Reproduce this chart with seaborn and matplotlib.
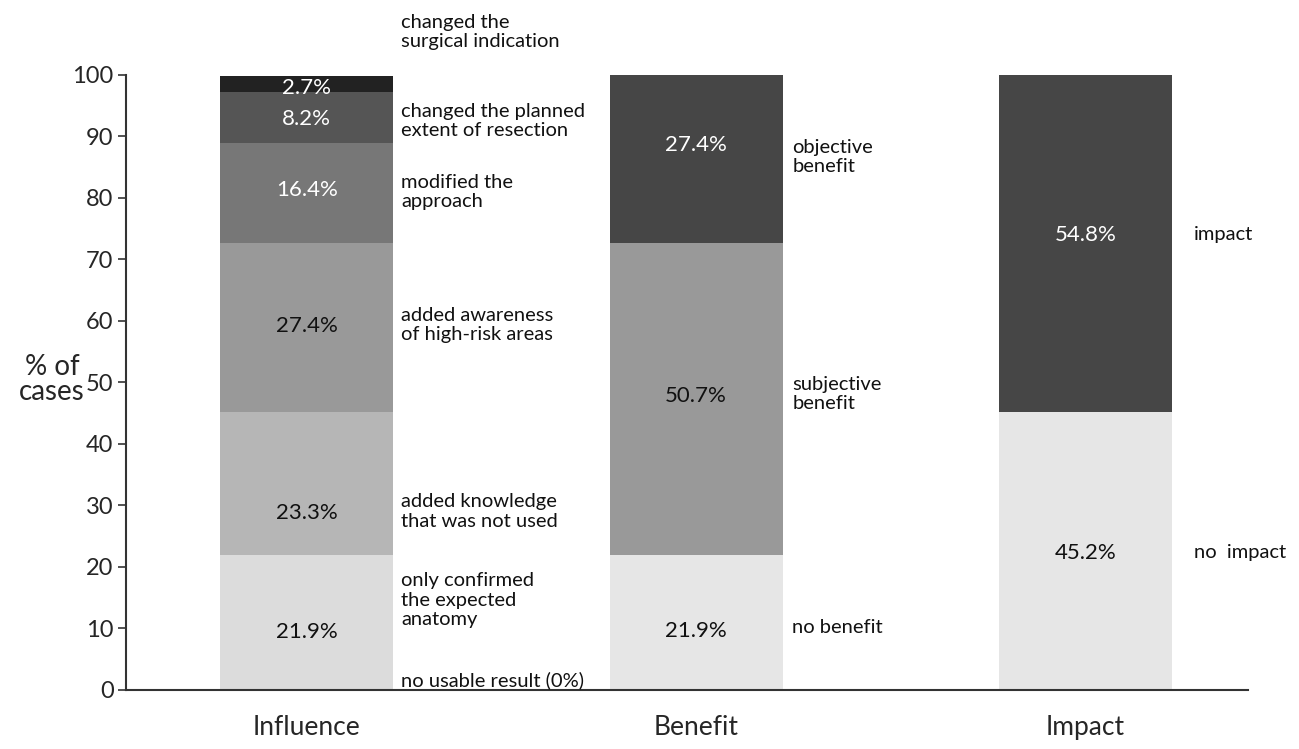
"""
Stacked bars: influence / benefit / impact of the intraoperative result
"""
import numpy as np
import pandas as pd
import matplotlib.pyplot as plt
import seaborn as sns

sns.set_style("ticks")
plt.rcParams['font.family'] = ['Lato', 'DejaVu Sans']

categories = ["Influence", "Benefit", "Impact"]

influence_labels = ["no usable result (0%)",
                    "only confirmed\nthe expected\nanatomy",
                    "added knowledge\nthat was not used",
                    "added awareness\nof high-risk areas",
                    "modified the\napproach",
                    "changed the planned\nextent of resection",
                    "changed the\nsurgical indication"]
influence_values = [0.0, 21.9, 23.3, 27.4, 16.4, 8.2, 2.7]

benefit_labels = ["no benefit", "subjective\nbenefit", "objective\nbenefit"]
benefit_values = [21.9, 50.7, 27.4]

impact_labels = ["no  impact", "impact"]
impact_values = [45.2, 54.8]

# colours bottom -> top
influence_colors = ["#dcdcdc", "#dcdcdc", "#b6b6b6", "#999999", "#777777", "#555555", "#222222"]
benefit_colors = ["#e6e6e6", "#999999", "#464646"]
impact_colors = ["#e6e6e6", "#464646"]

# text placement (data y of the side labels and of the values)
influence_text_y = [1.5, 14.6, 29.0, 59.3, 81.0, 92.5, 107.0]
influence_value_y = [None, 9.4, 28.8, 59.2, 81.3, 92.8, 97.9]
benefit_text_y = [10.1, 48.1, 86.7]
benefit_value_y = [9.6, 47.8, 88.6]
impact_text_y = [22.4, 74.0]
impact_value_y = [22.3, 74.0]

groups = [
    ("Influence", influence_labels, influence_values, influence_colors, influence_text_y, influence_value_y, 6),
    ("Benefit", benefit_labels, benefit_values, benefit_colors, benefit_text_y, benefit_value_y, 7),
    ("Impact", impact_labels, impact_values, impact_colors, impact_text_y, impact_value_y, 16),
]

rows = []
for cat, labels, values, colors, _, _, _ in groups:
    tops = np.cumsum(values)
    for lab, val, top, col in zip(labels, values, tops, colors):
        rows.append({"category": cat, "segment": cat + ": " + lab,
                     "value": val, "top": top, "color": col})
df = pd.DataFrame(rows)

# draw tallest cumulative first so lower segments paint over
hue_order = list(df.sort_values("top", ascending=False)["segment"])
palette = dict(zip(df["segment"], df["color"]))

fig = plt.figure(figsize=(12.99, 7.49), dpi=100)
ax = fig.add_axes([0.097, 0.079, 0.864, 0.821])

sns.barplot(data=df, x="category", y="top", hue="segment", order=categories,
            hue_order=hue_order, palette=palette, dodge=False, width=0.444,
            linewidth=0, legend=False, ax=ax)

half = 0.222
for i, (cat, labels, values, colors, text_y, value_y, dx) in enumerate(groups):
    for lab, val, col, ty, vy in zip(labels, values, colors, text_y, value_y):
        ax.annotate(lab, xy=(i + half, ty), xytext=(dx, 0), textcoords="offset points",
                    ha="left", va="center", fontsize=14.5, linespacing=1.15,
                    color="#111111", annotation_clip=False)
        if vy is not None and val > 0:
            dark = col in ("#222222", "#555555", "#777777", "#464646")
            ax.text(i, vy, f"{val:.1f}%", ha="center", va="center", fontsize=16,
                    color="white" if dark else "#111111")

ax.set_xlim(-0.464, 2.418)
ax.set_ylim(0, 100)
ax.set_yticks(np.arange(0, 101, 10))
ax.set_xlabel("")
ax.set_ylabel("% of\ncases", rotation=0, fontsize=20, ha="center", va="center",
              linespacing=0.95)
ax.yaxis.set_label_coords(-0.066, 0.505)

ax.tick_params(axis="y", labelsize=17, length=6, width=1.2, color="#333333", pad=3)
ax.tick_params(axis="x", labelsize=19, length=0, pad=18)
sns.despine(ax=ax)
for side in ("left", "bottom"):
    ax.spines[side].set_color("#333333")
    ax.spines[side].set_linewidth(1.5)

fig.savefig("out.png", dpi=100, facecolor="white")
